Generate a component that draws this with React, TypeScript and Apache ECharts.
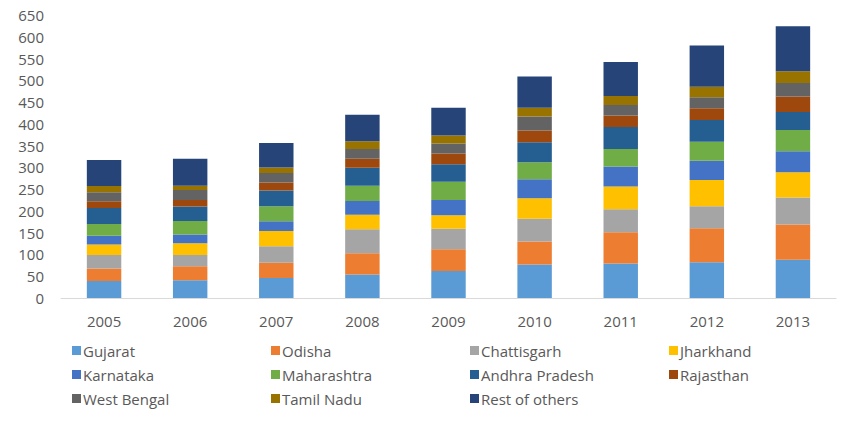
import { useRef, useEffect } from "react";
import * as echarts from "echarts";

const years = ["2005", "2006", "2007", "2008", "2009", "2010", "2011", "2012", "2013"];

const gujarat = [39, 41, 46, 54, 62, 77, 79, 82, 88];
const odisha = [29, 32, 35, 49, 50, 53, 72, 78, 81];
const chattisgarh = [31, 26, 38, 55, 47, 52, 53, 51, 62];
const jharkhand = [24, 27, 35, 33, 31, 47, 52, 60, 58];
const karnataka = [20, 20, 22, 32, 35, 44, 46, 44, 48];
const maharashtra = [27, 31, 35, 35, 42, 39, 40, 44, 49];
const andhraPradesh = [37, 33, 36, 41, 40, 46, 51, 50, 41];
const rajasthan = [15, 15, 18, 21, 25, 27, 26, 27, 36];
const westBengal = [21, 23, 22, 22, 23, 32, 24, 25, 31];
const tamilNadu = [14, 10, 13, 18, 18, 20, 21, 24, 27];
const restOfOthers = [60, 62, 56, 61, 64, 72, 78, 95, 103];

const seriesList = [
  { name: "Gujarat", data: gujarat, color: "#5B9BD5" },
  { name: "Odisha", data: odisha, color: "#ED7D31" },
  { name: "Chattisgarh", data: chattisgarh, color: "#A5A5A5" },
  { name: "Jharkhand", data: jharkhand, color: "#FFC000" },
  { name: "Karnataka", data: karnataka, color: "#4472C4" },
  { name: "Maharashtra", data: maharashtra, color: "#70AD47" },
  { name: "Andhra Pradesh", data: andhraPradesh, color: "#255E91" },
  { name: "Rajasthan", data: rajasthan, color: "#9E480E" },
  { name: "West Bengal", data: westBengal, color: "#636363" },
  { name: "Tamil Nadu", data: tamilNadu, color: "#997300" },
  { name: "Rest of others", data: restOfOthers, color: "#264478" },
];

const font = "'Open Sans', sans-serif";

const option = {
  animation: false,
  textStyle: { fontFamily: font },
  grid: { left: 61, right: 14, top: 15, bottom: 124 },
  legend: {
    left: 67,
    top: 336,
    width: 815,
    itemWidth: 9,
    itemHeight: 9,
    itemGap: 5,
    icon: "rect",
    textStyle: {
      fontFamily: font,
      fontSize: 15,
      color: "#595959",
      width: 183,
      lineHeight: 19,
      padding: [0, 0, 0, -3],
    },
    data: seriesList.map((s) => s.name),
  },
  xAxis: {
    type: "category",
    data: years,
    axisLine: { lineStyle: { color: "#D9D9D9", width: 1 } },
    axisTick: { show: false },
    axisLabel: { color: "#595959", fontSize: 15, margin: 15, fontFamily: font },
  },
  yAxis: {
    type: "value",
    min: 0,
    max: 650,
    interval: 50,
    splitLine: { show: false },
    axisLine: { show: false },
    axisTick: { show: false },
    axisLabel: { color: "#595959", fontSize: 15, margin: 17, fontFamily: font },
  },
  series: seriesList.map((s) => ({
    name: s.name,
    type: "bar",
    stack: "total",
    barWidth: "40%",
    data: s.data,
    itemStyle: { color: s.color },
  })),
};

const App = () => {
  const chartRef = useRef<HTMLDivElement>(null);

  useEffect(() => {
    const myChart = echarts.init(chartRef.current, null, { renderer: "svg" });
    myChart.setOption(option);
    return () => {
      myChart.dispose();
    };
  }, []);

  return (
    <div
      ref={chartRef}
      style={{ width: "850px", height: "422px", position: "absolute", left: 0, top: 0 }}
    ></div>
  );
};

export default App;
